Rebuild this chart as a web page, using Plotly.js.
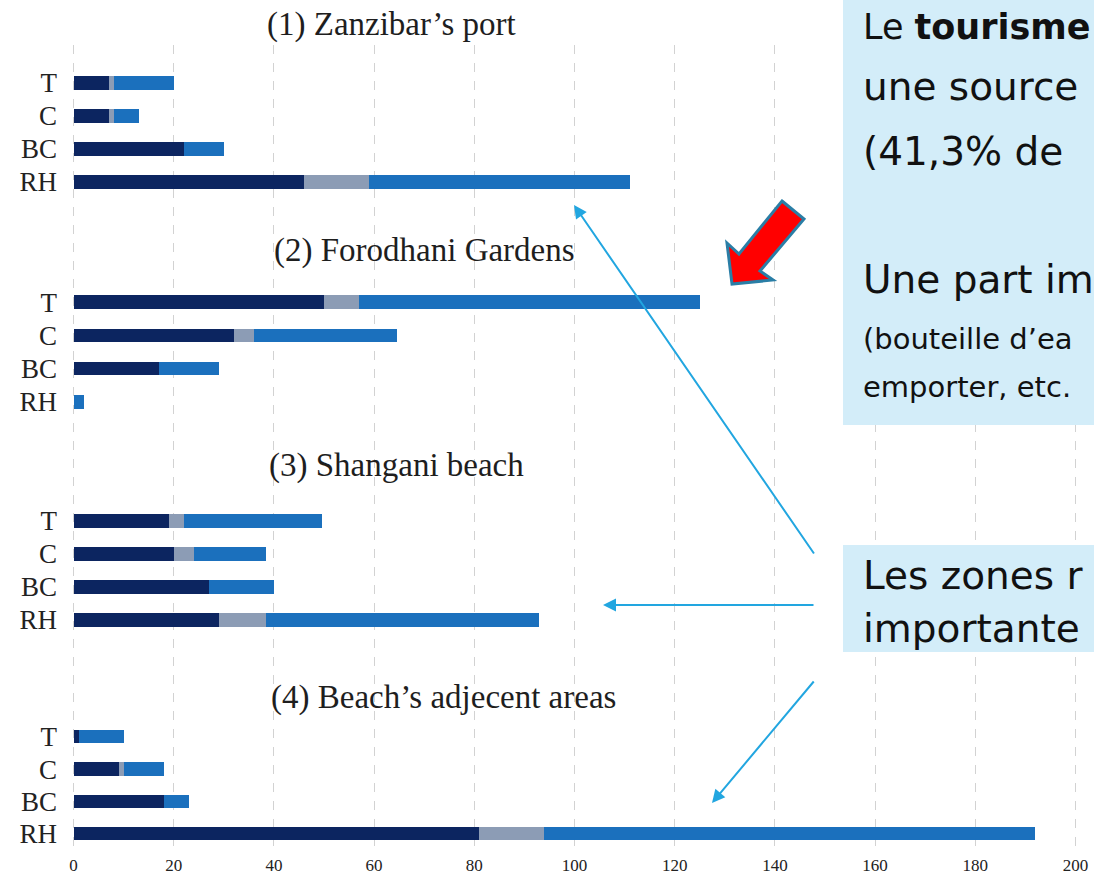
<!DOCTYPE html>
<html>
<head>
<meta charset="utf-8">
<script src="https://cdn.plot.ly/plotly-3.0.1.min.js"></script>
<style>
html,body{margin:0;padding:0;background:#ffffff;}
#chart{width:1094px;height:881px;}
</style>
</head>
<body>
<div id="chart"></div>
<script>
// ---------- DATA ----------
const categories = ['RH', 'BC', 'C', 'T'];
const panelTitles = ['(1) Zanzibar’s port', '(2) Forodhani Gardens', '(3) Shangani beach', '(4) Beach’s adjecent areas'];
const xTickValues = [0, 20, 40, 60, 80, 100, 120, 140, 160, 180, 200];
const seriesNames = ['Série 1', 'Série 2', 'Série 3'];

// values in the order of categories: RH, BC, C, T
const portDark   = [46, 22, 7, 7];
const portGray   = [13, 0, 1, 1];
const portBlue   = [52, 8, 5, 12];

const forodhaniDark = [0, 17, 32, 50];
const forodhaniGray = [0, 0, 4, 7];
const forodhaniBlue = [2, 12, 28.5, 68];

const shanganiDark = [29, 27, 20, 19];
const shanganiGray = [9.5, 0, 4, 3];
const shanganiBlue = [54.5, 13, 14.5, 27.5];

const adjacentDark = [81, 18, 9, 1];
const adjacentGray = [13, 0, 1, 0];
const adjacentBlue = [98, 5, 8, 9];

const panels = [
  [portDark, portGray, portBlue],
  [forodhaniDark, forodhaniGray, forodhaniBlue],
  [shanganiDark, shanganiGray, shanganiBlue],
  [adjacentDark, adjacentGray, adjacentBlue]
];

// ---------- STYLE / LAYOUT ----------
const colors = ['#0c2560', '#8c9cb5', '#1b70bd'];
const W = 1094, H = 881, ML = 72, MR = 17, MT = 45, MB = 31;
const PW = W - ML - MR, PH = H - MT - MB;
const px = p => (p - ML) / PW;          // page x pixel -> paper x
const py = p => (H - MB - p) / PH;      // page y pixel -> paper y

const panelPix = [[66.5, 198.5], [285.5, 418.5], [504.5, 636.5], [720.5, 850]];
const titlePix = [[265, 25], [272, 250], [267, 465], [269, 697]];

const serif = 'Liberation Serif, Times New Roman, serif';
const sans = 'DejaVu Sans, sans-serif';
const xRange = [-0.3, 200.3];

const traces = [{
  type: 'scatter', x: [], y: [], xaxis: 'x', yaxis: 'y',
  showlegend: false, hoverinfo: 'skip'
}];

const layout = {
  width: W, height: H,
  margin: {l: ML, r: MR, t: MT, b: MB, pad: 0},
  paper_bgcolor: '#ffffff', plot_bgcolor: 'rgba(0,0,0,0)',
  barmode: 'stack',
  showlegend: false,
  xaxis: {
    domain: [0, 1], range: xRange, anchor: 'y',
    tickvals: xTickValues, ticktext: xTickValues.map(String),
    showgrid: true, gridcolor: '#d2d2d2', griddash: 'dash', gridwidth: 1,
    zeroline: false, showline: false, ticks: '',
    ticklabelstandoff: 3,
    tickfont: {family: serif, size: 17, color: '#222'}
  },
  yaxis: {domain: [0, 1], range: [0, 1], anchor: 'x', visible: false},
  shapes: [],
  annotations: []
};

panels.forEach((series, i) => {
  const n = i + 2;
  series.forEach((vals, k) => {
    traces.push({
      type: 'bar', orientation: 'h',
      x: vals, y: categories,
      name: seriesNames[k],
      xaxis: 'x' + n, yaxis: 'y' + n,
      width: 0.41,
      marker: {color: colors[k], line: {width: 0}},
      showlegend: false
    });
  });
  layout['xaxis' + n] = {domain: [0, 1], range: xRange, anchor: 'y' + n, visible: false, fixedrange: true};
  layout['yaxis' + n] = {
    domain: [py(panelPix[i][1]), py(panelPix[i][0])],
    anchor: 'x' + n, type: 'category',
    categoryorder: 'array', categoryarray: categories,
    range: [-0.5, 3.5],
    showgrid: false, zeroline: false, showline: false, ticks: '',
    ticklabelstandoff: 14,
    tickfont: {family: serif, size: 27, color: '#222'}
  };
  layout.annotations.push({
    xref: 'paper', yref: 'paper', x: px(titlePix[i][0]), y: py(titlePix[i][1]),
    xanchor: 'left', yanchor: 'middle', showarrow: false,
    text: panelTitles[i],
    font: {family: serif, size: 33, color: '#1e1e1e'}
  });
});

// text boxes
const boxColor = '#d3edf9';
layout.shapes.push(
  {type: 'rect', xref: 'paper', yref: 'paper', layer: 'above',
   x0: px(843), x1: px(1100), y0: py(425), y1: py(-5),
   fillcolor: boxColor, line: {width: 0}},
  {type: 'rect', xref: 'paper', yref: 'paper', layer: 'above',
   x0: px(843), x1: px(1100), y0: py(652), y1: py(545),
   fillcolor: boxColor, line: {width: 0}}
);

// red block arrow
const arrowPts = [[782, 201], [804, 219], [760, 271], [773, 280], [732, 284], [727, 243], [739, 254]];
layout.shapes.push({
  type: 'path', xref: 'paper', yref: 'paper', layer: 'above',
  path: 'M ' + arrowPts.map(p => px(p[0]).toFixed(5) + ',' + py(p[1]).toFixed(5)).join(' L ') + ' Z',
  fillcolor: '#ff0000', line: {color: '#2a7ea6', width: 3}
});

// box texts: [text, centre y pixel, font size]
const textLines = [
  ['Le <b>tourisme</b>', 27, 35],
  ['une source', 86, 39],
  ['(41,3% de', 152, 39],
  ['Une part im', 279, 39],
  ['(bouteille d’ea', 339, 29],
  ['emporter, etc.', 387, 29],
  ['Les zones r', 575, 39],
  ['importante', 628, 39]
];
textLines.forEach(t => {
  layout.annotations.push({
    xref: 'paper', yref: 'paper', x: px(861), y: py(t[1]),
    xanchor: 'left', yanchor: 'middle', showarrow: false,
    text: t[0], font: {family: sans, size: t[2], color: '#111'}
  });
});

// thin blue pointer arrows
const pointers = [[574, 205, 815, 555], [603, 605, 815, 605], [712, 803, 815, 680]];
pointers.forEach(p => {
  layout.annotations.push({
    xref: 'paper', yref: 'paper', x: px(p[0]), y: py(p[1]),
    ax: p[2] - p[0], ay: p[3] - p[1], axref: 'pixel', ayref: 'pixel',
    text: '', showarrow: true, arrowhead: 2, arrowsize: 1.3, arrowwidth: 2,
    arrowcolor: '#22a6e0', standoff: 0
  });
});

Plotly.newPlot('chart', traces, layout, {displayModeBar: false, staticPlot: true});
</script>
</body>
</html>
